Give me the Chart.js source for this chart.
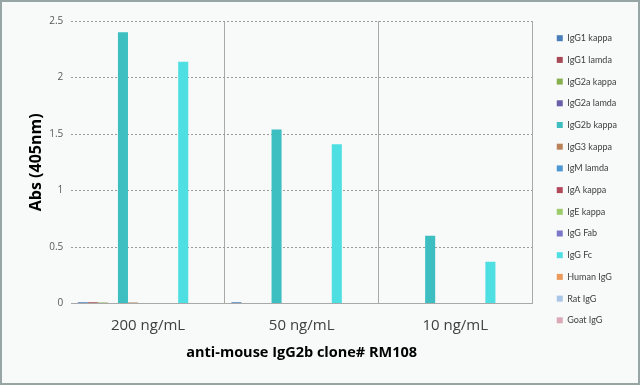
<!DOCTYPE html>
<html>
<head>
<meta charset="utf-8">
<script src="https://cdn.jsdelivr.net/npm/chart.js@4"></script>
<style>
    html, body { margin: 0; padding: 0; background: #f8f9f9; }
    #wrap {
        position: absolute; left: 0; top: 0;
        width: 636px; height: 381px;
        border: 2px solid #97a5a5;
        background: #f8f9f9;
    }
</style>
</head>
<body>
<div id="wrap"><canvas id="barChart" width="636" height="381"></canvas></div>
<script>
// categories and tick labels
const categories = ['200 ng/mL', '50 ng/mL', '10 ng/mL'];
const yTicks = [0, 0.5, 1, 1.5, 2, 2.5];

// one array per antibody, values for 200 / 50 / 10 ng/mL
const igg1Kappa  = [0.012, 0.012, 0];
const igg1Lamda  = [0.012, 0, 0];
const igg2aKappa = [0.01, 0, 0];
const igg2aLamda = [0, 0, 0];
const igg2bKappa = [2.40, 1.54, 0.60];
const igg3Kappa  = [0.01, 0, 0];
const igmLamda   = [0, 0, 0];
const igaKappa   = [0, 0, 0];
const igeKappa   = [0, 0, 0];
const iggFab     = [0, 0, 0];
const iggFc      = [2.14, 1.41, 0.37];
const humanIgg   = [0, 0, 0];
const ratIgg     = [0, 0, 0];
const goatIgg    = [0, 0, 0];

const seriesNames = ['IgG1 kappa', 'IgG1 lamda', 'IgG2a kappa', 'IgG2a lamda', 'IgG2b kappa',
    'IgG3 kappa', 'IgM lamda', 'IgA kappa', 'IgE kappa', 'IgG Fab', 'IgG Fc',
    'Human IgG', 'Rat IgG', 'Goat IgG'];
const seriesValues = [igg1Kappa, igg1Lamda, igg2aKappa, igg2aLamda, igg2bKappa,
    igg3Kappa, igmLamda, igaKappa, igeKappa, iggFab, iggFc,
    humanIgg, ratIgg, goatIgg];
const seriesColors = ['#4a7ebb', '#a84a55', '#86b04e', '#6a5fa8', '#3dbfc1',
    '#b8835a', '#4d98d4', '#b24a5e', '#9ccc6a', '#7b78c8', '#4ddfe2',
    '#ec9a5c', '#a9c6e6', '#d9aab6'];

// push the legend a little away from the plot, like the original
const legendShift = {
    id: 'legendShift',
    afterLayout(chart) {
        if (chart.legend) {
            chart.legend.left += 12;
            chart.legend.right += 12;
        }
    }
};

document.addEventListener('DOMContentLoaded', function() {
    generateBarChart();
});

function generateBarChart() {
    const ctx = document.getElementById('barChart').getContext('2d');
    new Chart(ctx, {
        type: 'bar',
        data: {
            labels: categories,
            datasets: seriesNames.map((name, i) => ({
                label: name,
                data: seriesValues[i],
                backgroundColor: seriesColors[i],
                borderWidth: 0,
                barPercentage: 1.0,
                categoryPercentage: 0.915
            }))
        },
        plugins: [legendShift],
        options: {
            responsive: false,
            animation: false,
            layout: {
                padding: { left: 21, top: 19, right: 23, bottom: 17 }
            },
            plugins: {
                legend: {
                    position: 'right',
                    align: 'start',
                    labels: {
                        boxWidth: 6,
                        boxHeight: 6,
                        padding: 12.7,
                        color: '#404040',
                        font: { family: 'Lato', size: 9 }
                    }
                },
                tooltip: { enabled: false }
            },
            scales: {
                x: {
                    grid: {
                        offset: true,
                        drawTicks: false,
                        color: (c) => c.index === 0 ? 'rgba(0,0,0,0)' : '#a9a9a9'
                    },
                    border: { display: true, color: '#a9a9a9' },
                    ticks: {
                        padding: 15,
                        color: '#404040',
                        font: { family: 'Open Sans', size: 15, lineHeight: 1 }
                    },
                    title: {
                        display: true,
                        text: 'anti-mouse IgG2b clone# RM108',
                        color: '#000',
                        padding: { top: -4, bottom: 4 },
                        font: { family: 'Open Sans', size: 14.5, weight: 'bold' }
                    }
                },
                y: {
                    min: 0,
                    max: 2.5,
                    afterBuildTicks: (axis) => { axis.ticks = yTicks.map(v => ({ value: v })); },
                    grid: {
                        drawTicks: false,
                        color: (c) => c.tick && c.tick.value === 0 ? 'rgba(0,0,0,0)' : '#9a9a9a'
                    },
                    border: { display: false, dash: [2, 2] },
                    ticks: {
                        padding: 8,
                        color: '#595959',
                        font: { family: 'Open Sans', size: 10 },
                        callback: (v) => v.toString()
                    },
                    title: {
                        display: true,
                        text: 'Abs (405nm)',
                        color: '#000',
                        padding: { top: 4, bottom: -5 },
                        font: { family: 'Open Sans', size: 16, weight: 'bold' }
                    }
                }
            }
        }
    });
}
</script>
</body>
</html>
